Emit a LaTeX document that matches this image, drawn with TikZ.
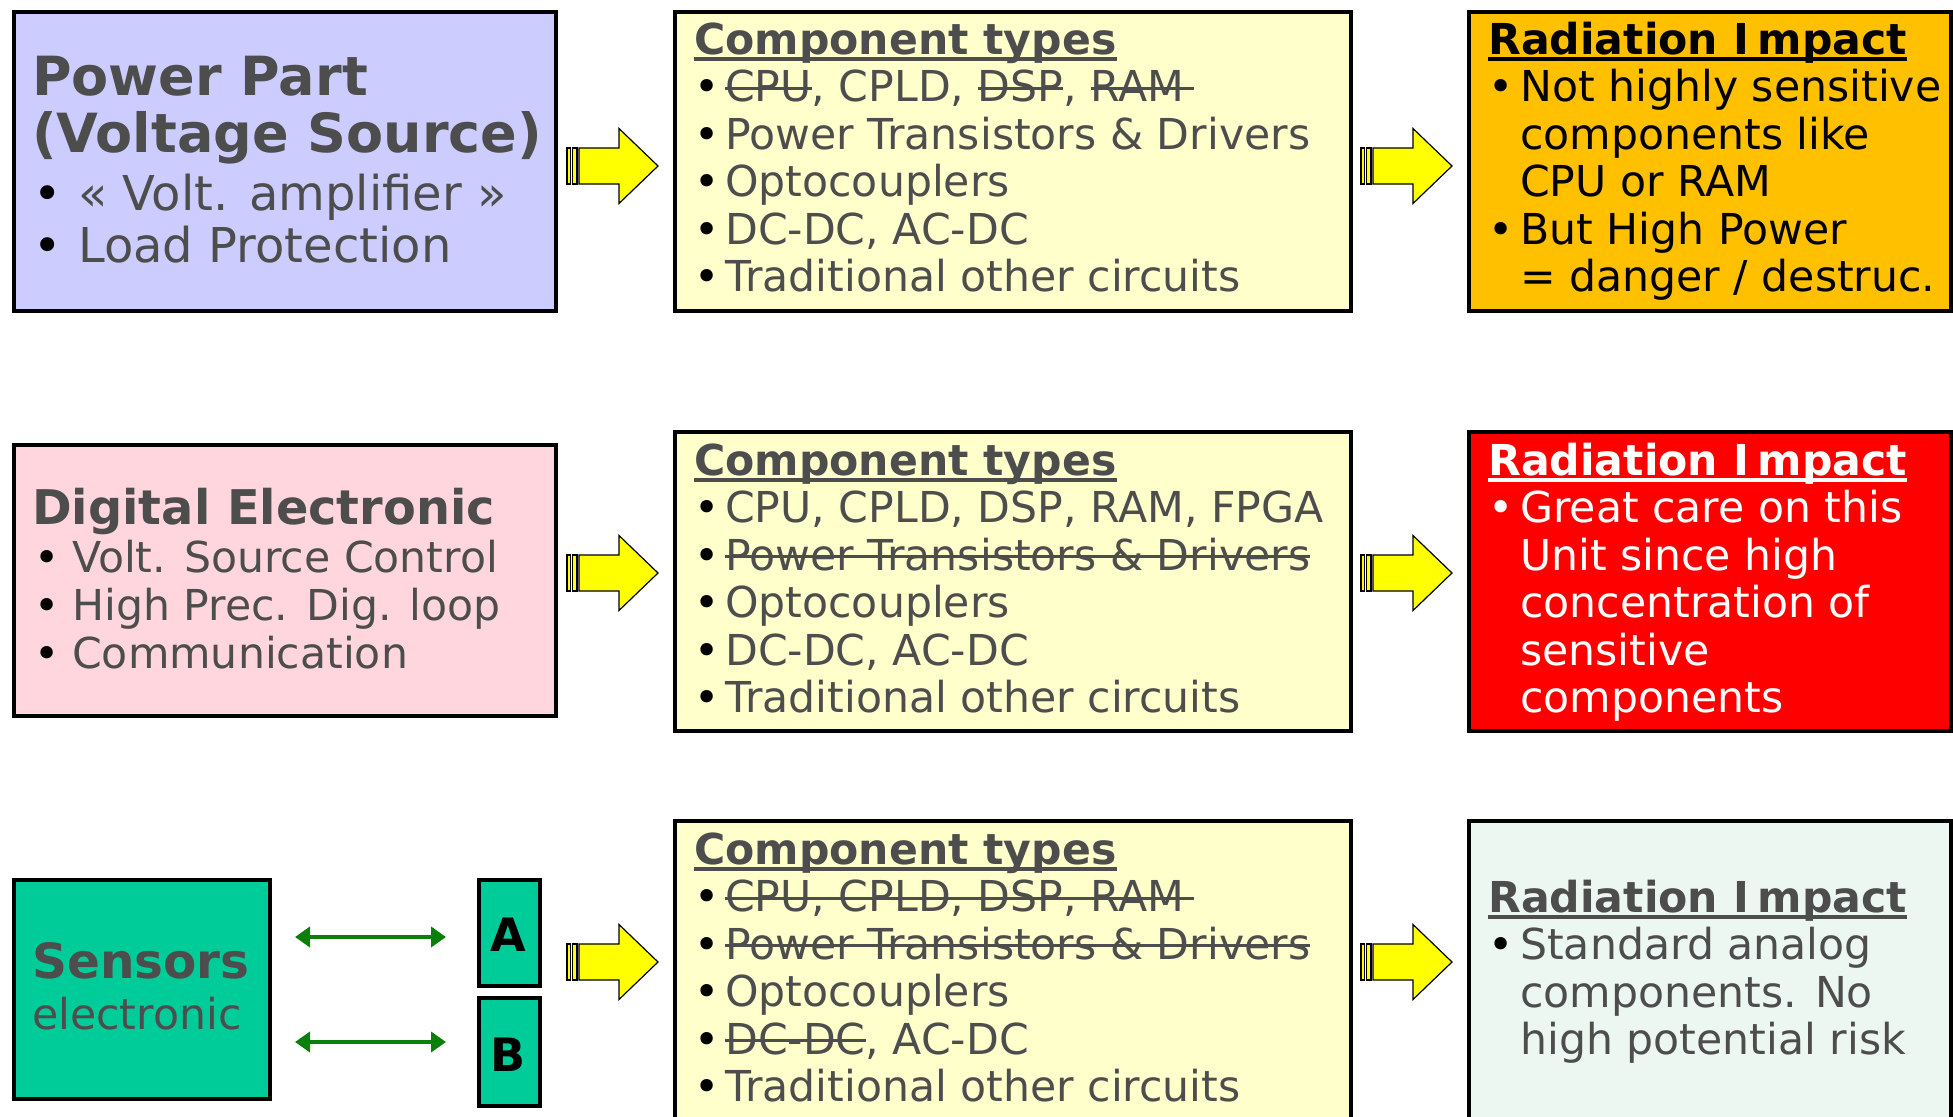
\documentclass[tikz,border=0pt]{standalone}
\usepackage{fontspec}
\setmainfont{DejaVu Sans}
\usetikzlibrary{arrows.meta}
\definecolor{tgrey}{HTML}{4D4D4D}
\definecolor{lav}{HTML}{CCCCFF}
\definecolor{pinkb}{HTML}{FFD6DD}
\definecolor{teal}{HTML}{00CC99}
\definecolor{cream}{HTML}{FFFFCC}
\definecolor{orangeb}{HTML}{FFC000}
\definecolor{redb}{HTML}{FF0000}
\definecolor{mint}{HTML}{EDF7F1}
\definecolor{ggreen}{HTML}{0A800A}
\definecolor{yel}{HTML}{FFFF00}
\newsavebox\stbox
\newcommand\bl[1]{\makebox[#1][l]{\textcolor{black}{•}}}
\newcommand\blw[1]{\makebox[#1][l]{•}}
\newcommand\st{\rule{0pt}{50pt}}
\newcommand\stk[1]{\sbox\stbox{#1}\rlap{\usebox\stbox}\rule[12pt]{\wd\stbox}{3pt}}
\newcommand\ttl[1]{\sbox\stbox{#1}\rlap{\usebox\stbox}\rule[-7pt]{\wd\stbox}{4pt}}
\tikzset{
  box/.style={draw=black, line width=4pt, anchor=north west, inner sep=0pt},
  txt/.style={anchor=north west, inner sep=0pt, align=left, text=tgrey},
  one/.style={anchor=base west, inner sep=0pt, text=tgrey},
  garrow/.style={draw=ggreen, line width=4pt, {Triangle[length=15pt,width=20pt]}-{Triangle[length=15pt,width=20pt]}},
  yarrow/.pic={
    \draw[fill=yel, line width=1.2pt] (0,-18) rectangle (3.5,18);
    \draw[fill=yel, line width=1.2pt] (5.5,-18) rectangle (10,18);
    \draw[fill=yel, line width=1.2pt, line join=miter] (12,-18) -- (52,-18) -- (52,-37.5) -- (91,0) -- (52,37.5) -- (52,18) -- (12,18) -- cycle;
  },
  body/.style={font=\fontsize{42.6}{47.5}\selectfont}
}
\begin{document}
\begin{tikzpicture}[x=1pt,y=-1pt]
\clip (0,0) rectangle (1953,1116);
\fill[white] (0,0) rectangle (1953,1116);
% boxes
\node[box, fill=lav, minimum width=542pt, minimum height=299pt] (pw) at (12,10) {};
\node[box, fill=cream, minimum width=676pt, minimum height=299pt] (c1) at (673,10) {};
\node[box, fill=orangeb, minimum width=482pt, minimum height=299pt] (r1) at (1467,10) {};
\node[box, fill=pinkb, minimum width=542pt, minimum height=271pt] (dg) at (12,443) {};
\node[box, fill=cream, minimum width=676pt, minimum height=299pt] (c2) at (673,430) {};
\node[box, fill=redb, minimum width=482pt, minimum height=299pt] (r2) at (1467,430) {};
\node[box, fill=teal, minimum width=256pt, minimum height=219pt] (sn) at (12,878) {};
\node[box, fill=teal, minimum width=61pt, minimum height=106pt] (ba) at (477,878) {};
\node[box, fill=teal, minimum width=61pt, minimum height=108pt] (bb) at (477,996) {};
\node[box, fill=cream, minimum width=676pt, minimum height=330pt] (c3) at (673,819) {};
\node[box, fill=mint, minimum width=482pt, minimum height=330pt] (r3) at (1467,819) {};
% yellow arrows
\pic at (567,166) {yarrow};
\pic at (1361,166) {yarrow};
\pic at (567,573) {yarrow};
\pic at (1361,573) {yarrow};
\pic at (567,962) {yarrow};
\pic at (1361,962) {yarrow};
% green arrows
\coordinate (g1a) at (295,937); \coordinate (g1b) at (446,937);
\coordinate (g2a) at (295,1042); \coordinate (g2b) at (446,1042);
\draw[garrow] (g1a) -- (g1b);
\draw[garrow] (g2a) -- (g2b);
% row 1 texts
\node[txt, font=\fontsize{54}{57}\selectfont\bfseries] (pwt) at (32,45) {\st Power Part\\(Voltage Source)};
\node[txt, font=\fontsize{48}{52}\selectfont] (pwb) at (33,160) {\st\bl{45pt}« Volt. amplifier »\\\bl{45pt}Load Protection};
\node[txt, body] (c1t) at (694,4) {\st\textbf{\ttl{Component types}}\\
\bl{31pt}\stk{CPU}, CPLD, \stk{DSP}, \stk{RAM\hspace{10pt}}\\
\bl{31pt}Power Transistors \& Drivers\\
\bl{31pt}Optocouplers\\
\bl{31pt}DC-DC, AC-DC\\
\bl{31pt}Traditional other circuits};
\node[txt, body, text=black] (r1t) at (1488,4) {\st\textbf{\ttl{Radiation I\kern9pt mpact}}\\
\bl{32pt}Not highly sensitive\\
\hspace*{32pt}components like\\
\hspace*{32pt}CPU or RAM\\
\bl{32pt}But High Power\\
\hspace*{32pt}= danger / destruc.};
% row 2 texts
\node[txt, font=\fontsize{47.8}{50}\selectfont\bfseries] (dgt) at (32,474) {\st Digital Electronic};
\node[txt, font=\fontsize{42.6}{48}\selectfont] (dgb) at (34,522) {\st\bl{38pt}Volt. Source Control\\\bl{38pt}High Prec. Dig. loop\\\bl{38pt}Communication};
\node[txt, body] (c2t) at (694,425) {\st\textbf{\ttl{Component types}}\\
\bl{31pt}CPU, CPLD, DSP, RAM, FPGA\\
\bl{31pt}\stk{Power Transistors \& Drivers}\\
\bl{31pt}Optocouplers\\
\bl{31pt}DC-DC, AC-DC\\
\bl{31pt}Traditional other circuits};
\node[txt, body, text=white] (r2t) at (1488,425) {\st\textbf{\ttl{Radiation I\kern9pt mpact}}\\
\blw{32pt}Great care on this\\
\hspace*{32pt}Unit since high\\
\hspace*{32pt}concentration of\\
\hspace*{32pt}sensitive\\
\hspace*{32pt}components};
% row 3 texts
\node[one, font=\fontsize{48.5}{50}\selectfont\bfseries] (snt) at (32,978) {Sensors};
\node[one, font=\fontsize{42.6}{48}\selectfont] (sne) at (32,1029) {electronic};
\node[anchor=base, inner sep=0pt, font=\fontsize{46}{48}\selectfont\bfseries] (bat) at (508,951) {A};
\node[anchor=base, inner sep=0pt, font=\fontsize{46}{48}\selectfont\bfseries] (bbt) at (508,1071) {B};
\node[txt, body] (c3t) at (694,814) {\st\textbf{\ttl{Component types}}\\
\bl{31pt}\stk{CPU, CPLD, DSP, RAM\hspace{10pt}}\\
\bl{31pt}\stk{Power Transistors \& Drivers}\\
\bl{31pt}Optocouplers\\
\bl{31pt}\stk{DC-DC}, AC-DC\\
\bl{31pt}Traditional other circuits};
\node[txt, body] (r3t) at (1488,862) {\st\textbf{\ttl{Radiation I\kern9pt mpact}}\\
\bl{32pt}Standard analog\\
\hspace*{32pt}components. No\\
\hspace*{32pt}high potential risk};
\end{tikzpicture}
\end{document}
